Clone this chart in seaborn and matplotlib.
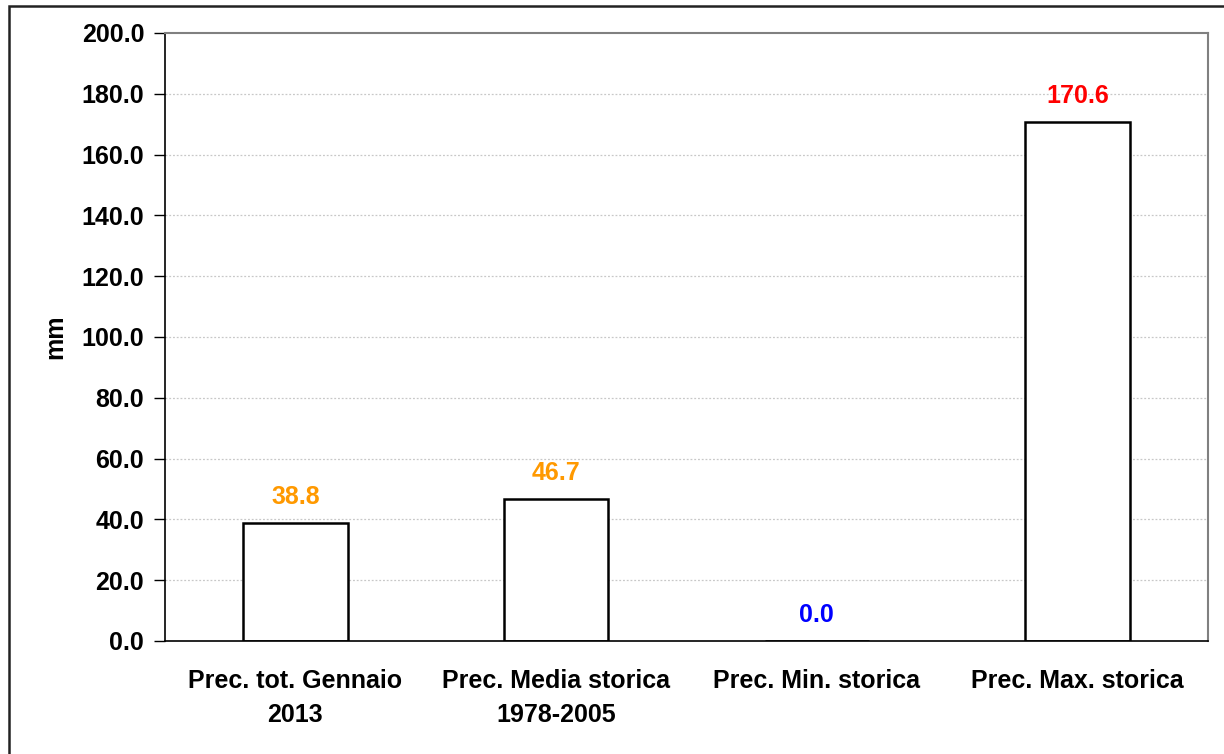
import matplotlib
matplotlib.use('Agg')
import matplotlib.pyplot as plt
import seaborn as sns
import pandas as pd
from matplotlib.patches import Rectangle

# data
categories = ['Prec. tot. Gennaio\n2013', 'Prec. Media storica\n1978-2005',
              'Prec. Min. storica', 'Prec. Max. storica']
values = [38.8, 46.7, 0.0, 170.6]
label_colors = ['#FF9900', '#FF9900', '#0000FF', '#FF0000']
yticks = [0, 20, 40, 60, 80, 100, 120, 140, 160, 180, 200]

df = pd.DataFrame({'cat': categories, 'mm': values})

sns.set_style('white')
plt.rcParams['font.family'] = ['Liberation Sans', 'DejaVu Sans']
plt.rcParams['font.weight'] = 'bold'
plt.rcParams['text.color'] = 'black'
plt.rcParams['axes.labelcolor'] = 'black'
plt.rcParams['xtick.color'] = 'black'
plt.rcParams['ytick.color'] = 'black'

fs = 18

fig = plt.figure(figsize=(12.24, 7.54), dpi=100)
ax = fig.add_axes([165 / 1224, 1 - 641 / 754, (1208 - 165) / 1224, (641 - 33) / 754])

sns.barplot(data=df, x='cat', y='mm', ax=ax, color='white', edgecolor='black',
            linewidth=1.8, width=0.4, saturation=1)

# value labels above bars
for i, (v, c) in enumerate(zip(values, label_colors)):
    ax.annotate(f'{v:.1f}', (i, v), xytext=(0, 10), textcoords='offset points',
                ha='center', va='bottom', color=c, fontsize=fs, fontweight='bold')

ax.set_ylim(0, 200)
ax.set_xlim(-0.5, len(categories) - 0.5)
ax.set_yticks(yticks)
ax.set_yticklabels([f'{t:.1f}' for t in yticks], fontsize=fs, fontweight='bold')
ax.set_xticks(range(len(categories)))
ax.set_xticklabels(categories, fontsize=fs, fontweight='bold', linespacing=1.55)
ax.tick_params(axis='x', length=0, pad=20)
ax.set_xticks([x - 0.5 for x in range(len(categories) + 1)], minor=True)
ax.tick_params(axis='x', which='minor', length=8, width=1, color='black', direction='out')
ax.tick_params(axis='y', length=8, width=1, color='black', direction='out', left=True, pad=7)

for y in yticks[1:-1]:
    ax.axhline(y, color='#C8C8C8', linestyle=(0, (1.5, 1.5)), linewidth=0.9, zorder=0)

ax.set_xlabel('')
ax.set_ylabel('mm', fontsize=fs, fontweight='bold', labelpad=10)

for s in ['left', 'bottom']:
    ax.spines[s].set_color('black')
    ax.spines[s].set_linewidth(1.2)
for s in ['top', 'right']:
    ax.spines[s].set_color('#808080')
    ax.spines[s].set_linewidth(1.5)

# outer frame of the chart area
fig.patches.append(Rectangle((9 / 1224, -0.01), 1.0, 1 - 6 / 754 + 0.01,
                             transform=fig.transFigure, fill=False,
                             edgecolor='#222222', linewidth=1.8))

fig.savefig('out.png', dpi=100, facecolor='white')
